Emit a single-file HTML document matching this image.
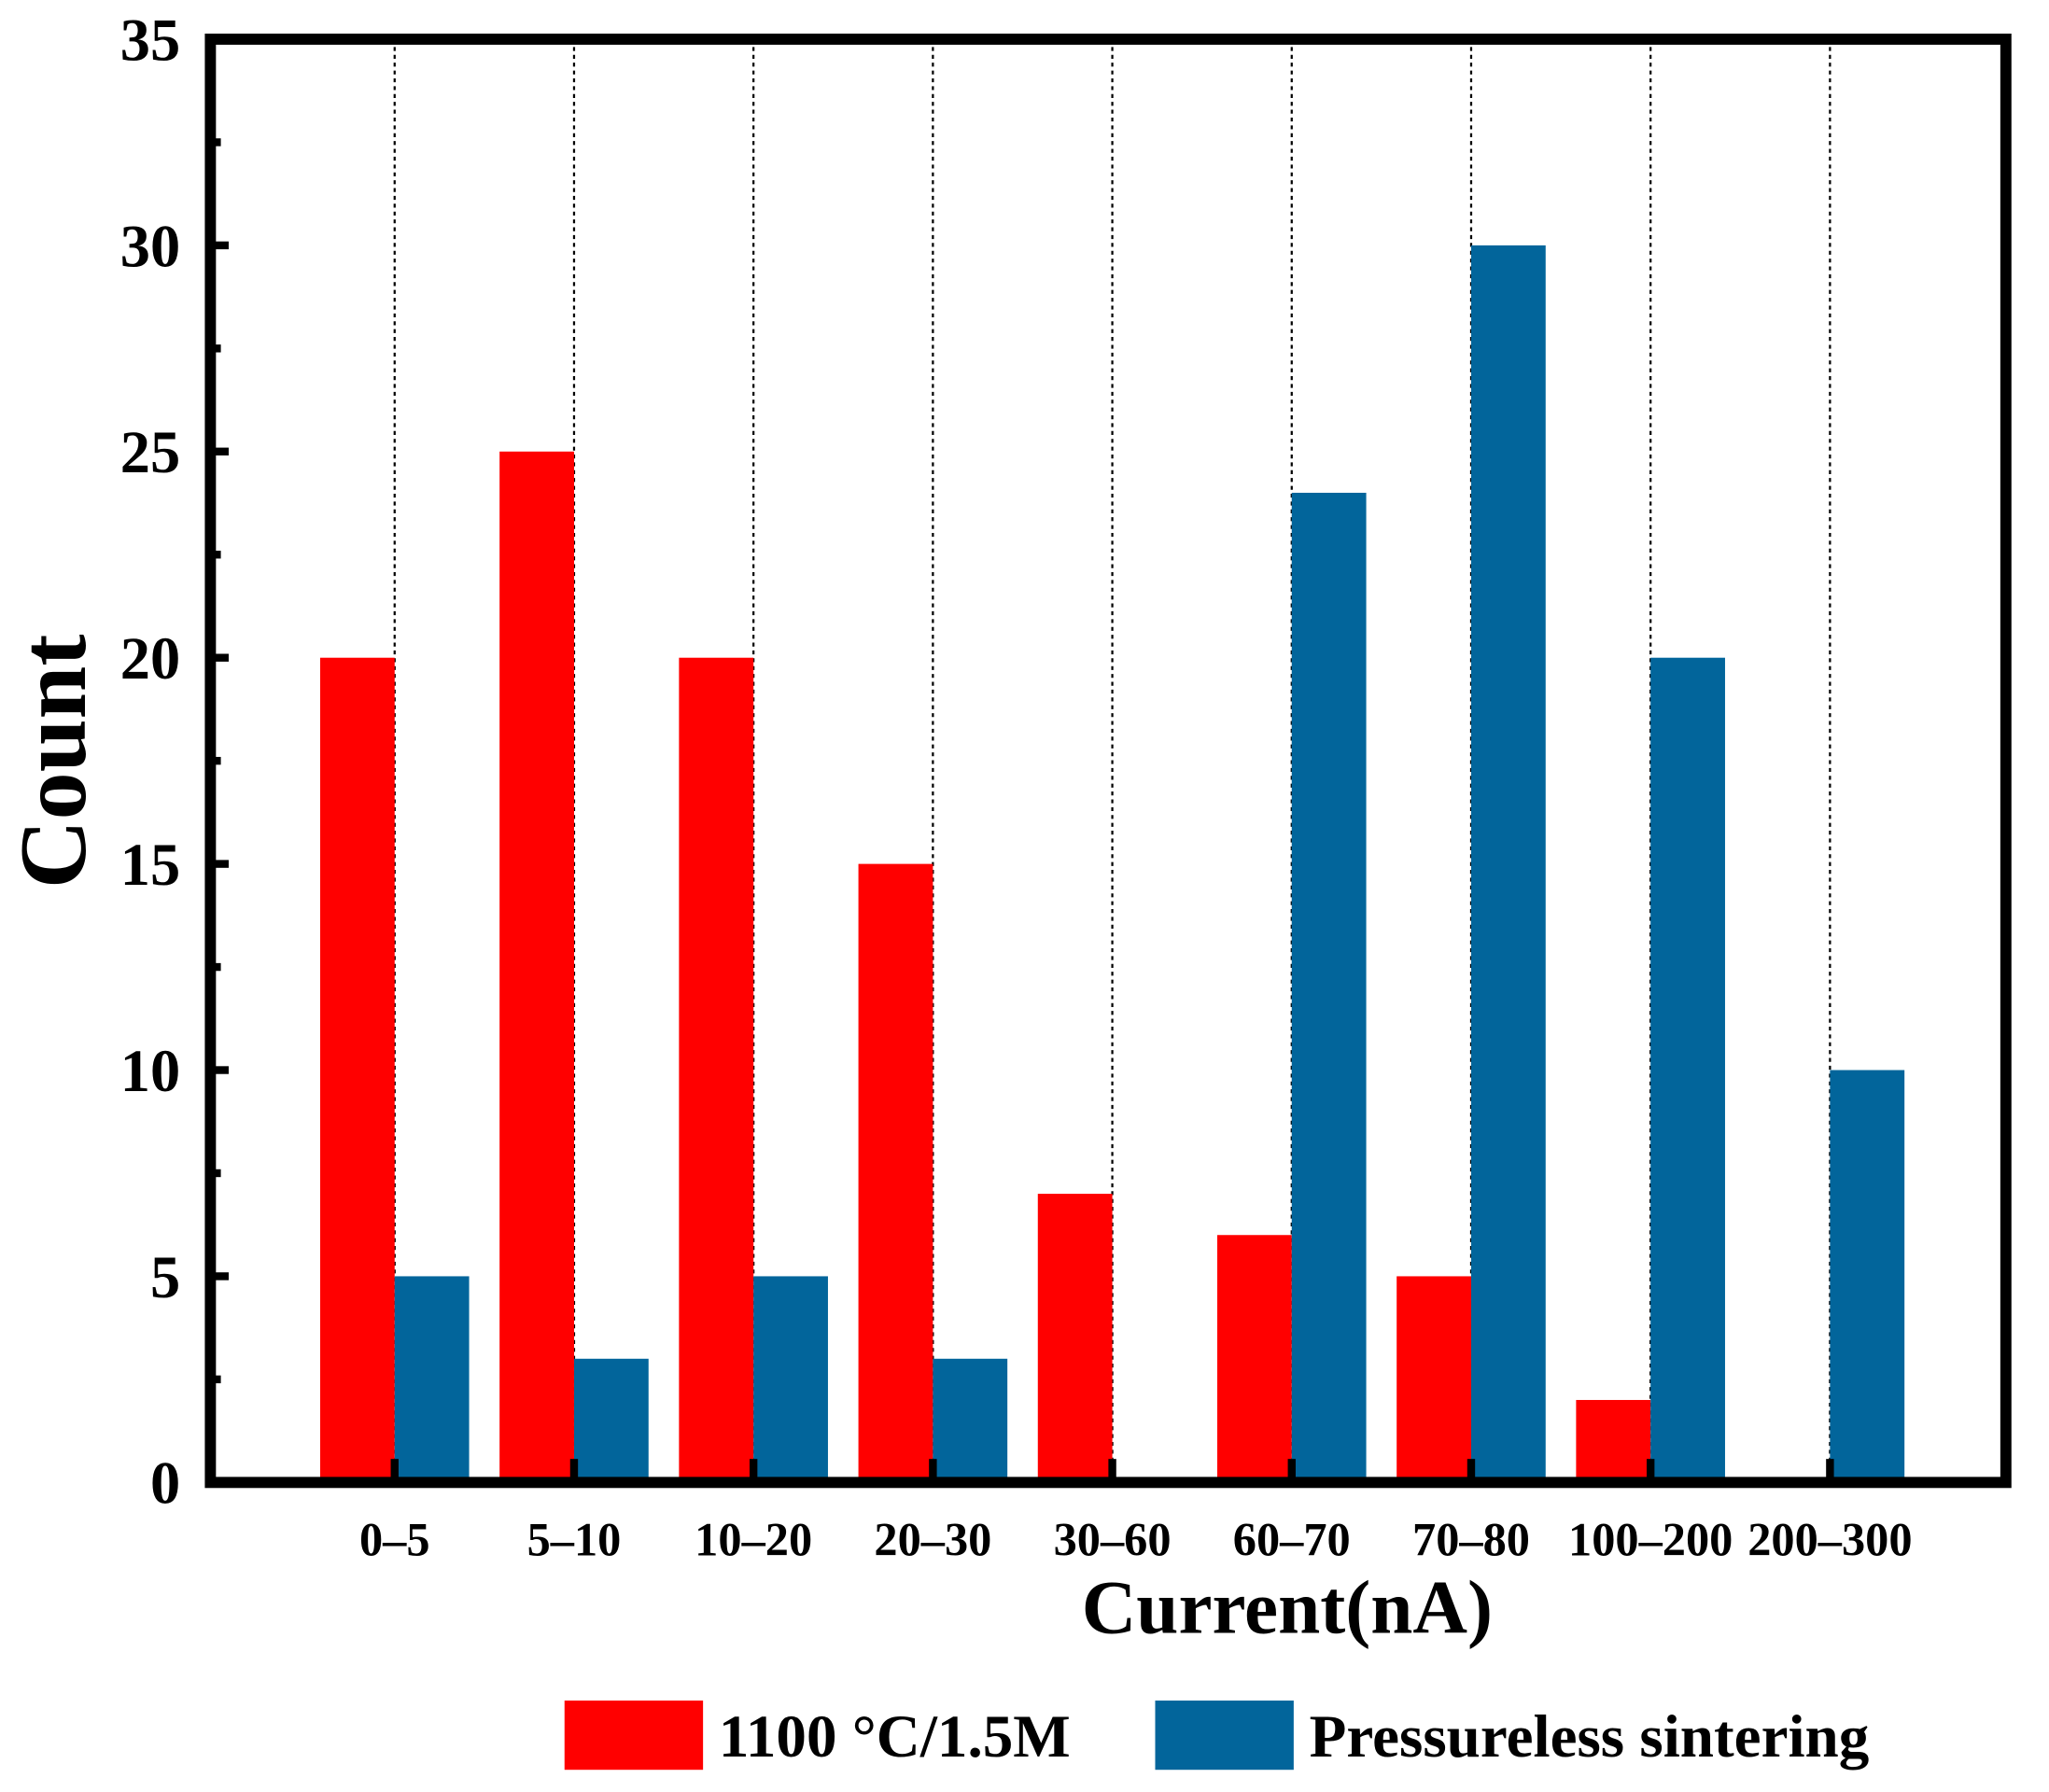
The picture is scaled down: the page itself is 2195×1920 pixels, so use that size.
<!DOCTYPE html>
<html><head><meta charset="utf-8"><style>
html,body{margin:0;padding:0;background:#fff;}
svg{display:block;}
text{font-family:"Liberation Serif",serif;font-weight:bold;fill:#000;}
</style></head><body>
<svg id="chart" width="2195" height="1920" viewBox="0 0 1568 1372" preserveAspectRatio="none" xmlns="http://www.w3.org/2000/svg">
<g id="grid"></g>
<g id="bars"></g>
<g id="axes"></g>
<text x="65" y="583" font-size="73" text-anchor="middle" transform="rotate(-90 65 583)">Count</text>
<text x="985" y="1250" font-size="58" text-anchor="middle">Current(nA)</text>
<g>
<rect x="432" y="1302" width="106" height="53" fill="#FF0000"/>
<text x="550" y="1345" font-size="46.5">1100 °C/1.5M</text>
<rect x="884" y="1302" width="106" height="53" fill="#02659B"/>
<text x="1002" y="1345" font-size="46.5">Pressureless sintering</text>
</g>
</svg>
<script>
const categories = ["0–5","5–10","10–20","20–30","30–60","60–70","70–80","100–200","200–300"];
const redValues = [20,25,20,15,7,6,5,2,0];
const blueValues = [5,3,5,3,0,24,30,20,10];
const yTicks = [0,5,10,15,20,25,30,35];

const NS = "http://www.w3.org/2000/svg";
const L = 161, R = 1535, T = 30, B = 1135;
const yMax = 35;
function yScale(v){ return B - (v / yMax) * (B - T); }
const x0 = 302, step = 137.3, barW = 57;
function xScale(i){ return x0 + i * step; }
function mk(tag, attrs, parent){
  const e = document.createElementNS(NS, tag);
  for (const k in attrs) e.setAttribute(k, attrs[k]);
  parent.appendChild(e);
  return e;
}
const grid = document.getElementById('grid');
const bars = document.getElementById('bars');
const axes = document.getElementById('axes');

categories.forEach((c, i) => {
  const x = xScale(i);
  const d = mk('line', {x1:x, x2:x, y1:T, y2:B, stroke:'#000', 'stroke-width':1.6, 'stroke-dasharray':'3 3'}, grid);
  
  
  const yr = yScale(redValues[i]);
  const r = mk('rect', {x:x - barW, y:yr, width:barW, height:B - yr, fill:'#FF0000'}, bars);
  
  
  const yb = yScale(blueValues[i]);
  const b = mk('rect', {x:x, y:yb, width:barW, height:B - yb, fill:'#02659B'}, bars);
  
  
  const t = mk('rect', {x:x - 3, y:B - 18, width:6, height:18, fill:'#000'}, axes);
  
  
  const lab = mk('text', {x:x, y:1191, 'font-size':36, 'text-anchor':'middle'}, axes);
  lab.textContent = c;
  
  
});

mk('rect', {x:L, y:T, width:R - L, height:B - T, fill:'none', stroke:'#000', 'stroke-width':8.5}, axes);

for (let v = 0; v <= yMax; v += 2.5) {
  const y = yScale(v);
  const major = v % 5 === 0;
  const t = mk('rect', {x:L, y:y - 3, width:major ? 14 : 8, height:6, fill:'#000'}, axes);
  
  
}
yTicks.forEach(v => {
  const lab = mk('text', {x:138, y:yScale(v) + 16, 'font-size':46, 'text-anchor':'end'}, axes);
  lab.textContent = v;
  
  
});
</script>
</body></html>
